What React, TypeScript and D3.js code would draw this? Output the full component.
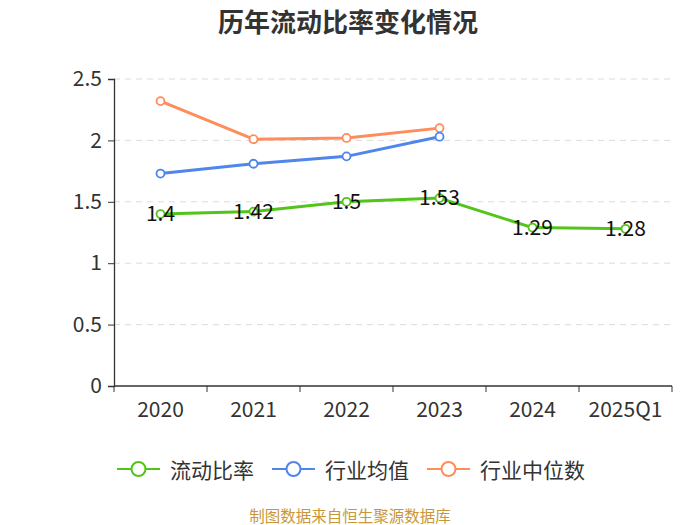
import React, { useRef, useEffect } from "react";
import * as d3 from "d3";

const years = ["2020", "2021", "2022", "2023", "2024", "2025Q1"];
const currentRatio = [1.4, 1.42, 1.5, 1.53, 1.29, 1.28];
const industryAvg = [1.73, 1.81, 1.87, 2.03];
const industryMedian = [2.32, 2.01, 2.02, 2.1];
const yTicks = [0, 0.5, 1, 1.5, 2, 2.5];

const seriesList = [
  { name: "流动比率", values: currentRatio, color: "#52c41a" },
  { name: "行业均值", values: industryAvg, color: "#4f86ec" },
  { name: "行业中位数", values: industryMedian, color: "#ff8c5a" },
];

const FONT = "'Noto Sans CJK SC', 'Noto Sans', sans-serif";

const App = () => {
  const svgRef = useRef(null);

  useEffect(() => {
    const width = 700,
      height = 525;
    const svg = d3.select(svgRef.current);
    svg.selectAll("*").remove();

    const marginLeft = 114,
      marginRight = 28,
      marginTop = 78,
      bottom = 386;

    const x = d3
      .scaleBand()
      .domain(years)
      .range([marginLeft, width - marginRight]);
    const y = d3.scaleLinear().domain([0, 2.5]).range([bottom, marginTop + 1]);

    // title
    svg
      .append("text")
      .attr("x", 348)
      .attr("y", 20)
      .attr("text-anchor", "middle")
      .attr("dominant-baseline", "central")
      .attr("font-size", 26)
      .attr("font-weight", "bold")
      .attr("fill", "#333")
      .attr("font-family", FONT)
      .text("历年流动比率变化情况");

    // grid
    svg
      .append("g")
      .selectAll("line")
      .data(yTicks.filter((d) => d > 0))
      .join("line")
      .attr("x1", marginLeft)
      .attr("x2", width - marginRight)
      .attr("y1", (d) => y(d))
      .attr("y2", (d) => y(d))
      .attr("stroke", "#dcdcdc")
      .attr("stroke-dasharray", "6,5");

    // y axis
    const yAxis = svg
      .append("g")
      .attr("transform", `translate(${marginLeft},0)`)
      .call(d3.axisLeft(y).tickValues(yTicks).tickFormat((d) => `${d}`).tickSize(6).tickPadding(6));
    yAxis.select(".domain").attr("stroke", "#333").attr("stroke-width", 1.3);
    yAxis.selectAll(".tick line").attr("stroke", "#333");
    yAxis
      .selectAll("text")
      .attr("font-size", 21)
      .attr("fill", "#333")
      .attr("font-family", FONT);

    // x axis
    const xg = svg.append("g").attr("transform", `translate(0,${bottom})`);
    xg.append("line")
      .attr("x1", marginLeft)
      .attr("x2", width - marginRight)
      .attr("stroke", "#333")
      .attr("stroke-width", 1.3);
    xg.selectAll(".tk")
      .data([...years.map((d) => x(d)), x.range()[1]])
      .join("line")
      .attr("class", "tk")
      .attr("x1", (d) => d)
      .attr("x2", (d) => d)
      .attr("y1", 0)
      .attr("y2", 6)
      .attr("stroke", "#333");
    xg.selectAll("text")
      .data(years)
      .join("text")
      .attr("x", (d) => x(d) + x.bandwidth() / 2)
      .attr("y", 22)
      .attr("text-anchor", "middle")
      .attr("dominant-baseline", "central")
      .attr("font-size", 21)
      .attr("fill", "#333")
      .attr("font-family", FONT)
      .text((d) => d);

    const cx = (i) => x(years[i]) + x.bandwidth() / 2;
    const line = d3
      .line()
      .x((d, i) => cx(i))
      .y((d) => y(d));

    // draw in reverse so 流动比率 is on top
    [...seriesList].reverse().forEach((s) => {
      svg
        .append("path")
        .datum(s.values)
        .attr("d", line)
        .attr("fill", "none")
        .attr("stroke", s.color)
        .attr("stroke-width", 3)
        .attr("stroke-linejoin", "round");
      svg
        .append("g")
        .selectAll("circle")
        .data(s.values)
        .join("circle")
        .attr("cx", (d, i) => cx(i))
        .attr("cy", (d) => y(d))
        .attr("r", 4)
        .attr("fill", "#fff")
        .attr("stroke", s.color)
        .attr("stroke-width", 1.8);
    });

    // data labels
    svg
      .append("g")
      .selectAll("text")
      .data(currentRatio)
      .join("text")
      .attr("x", (d, i) => cx(i))
      .attr("y", (d) => y(d) - 2)
      .attr("text-anchor", "middle")
      .attr("dominant-baseline", "central")
      .attr("font-size", 21)
      .attr("fill", "#111")
      .attr("font-family", FONT)
      .text((d) => `${d}`);

    // legend
    const legendX = [117, 272, 427];
    const lg = svg
      .append("g")
      .selectAll("g")
      .data(seriesList)
      .join("g")
      .attr("transform", (d, i) => `translate(${legendX[i]},469)`);
    lg.append("line")
      .attr("x1", 0)
      .attr("x2", 43)
      .attr("stroke", (d) => d.color)
      .attr("stroke-width", 2);
    lg.append("circle")
      .attr("cx", 21.5)
      .attr("r", 7)
      .attr("fill", "#fff")
      .attr("stroke", (d) => d.color)
      .attr("stroke-width", 2);
    lg.append("text")
      .attr("x", 53)
      .attr("dominant-baseline", "central")
      .attr("font-size", 21)
      .attr("fill", "#333")
      .attr("font-family", FONT)
      .text((d) => d.name);

    // footer
    svg
      .append("text")
      .attr("x", 350)
      .attr("y", 515)
      .attr("text-anchor", "middle")
      .attr("dominant-baseline", "central")
      .attr("font-size", 15.5)
      .attr("fill", "#c9973a")
      .attr("font-family", FONT)
      .text("制图数据来自恒生聚源数据库");
  }, []);

  return (
    <svg
      ref={svgRef}
      width={700}
      height={525}
      style={{ position: "absolute", left: 0, top: 0, background: "#fff" }}
    ></svg>
  );
};

export default App;
